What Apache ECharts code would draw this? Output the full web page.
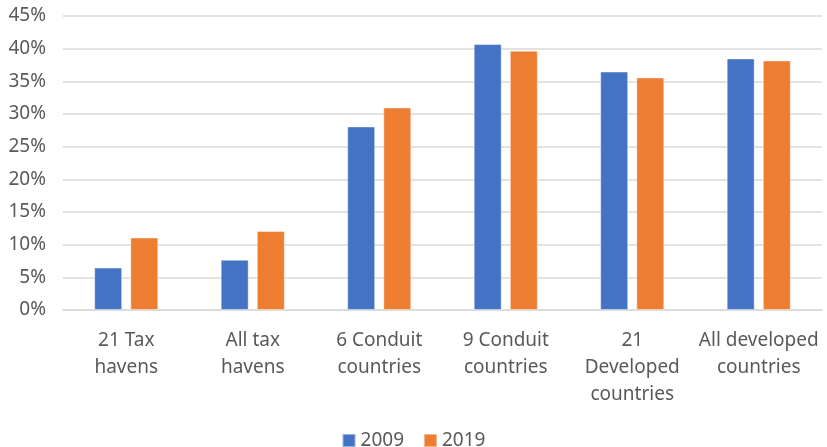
<!DOCTYPE html>
<html>
<head>
<meta charset="utf-8">
<script src="https://cdn.jsdelivr.net/npm/echarts@6/dist/echarts.min.js"></script>
<style>
  html, body { margin: 0; padding: 0; background: #fff; }
  #chart { width: 827px; height: 447px; }
</style>
</head>
<body>
<div id="chart"></div>
<script>
// Share by country group, 2009 vs 2019
const categories = [
  '21 Tax\nhavens',
  'All tax\nhavens',
  '6 Conduit\ncountries',
  '9 Conduit\ncountries',
  '21\nDeveloped\ncountries',
  'All developed\ncountries'
];
const values2009 = [6.5, 7.7, 28.1, 40.7, 36.5, 38.5];
const values2019 = [11.1, 12.1, 31.0, 39.7, 35.6, 38.2];
const yTicks = { min: 0, max: 45, interval: 5 };

const textColor = '#595959';
const font = '"Noto Sans", "Open Sans", sans-serif';

const chart = echarts.init(document.getElementById('chart'), null, { renderer: 'canvas' });
chart.setOption({
  animation: false,
  backgroundColor: '#ffffff',
  grid: { left: 63, right: 5, top: 16, bottom: 137, containLabel: false },
  legend: {
    top: 426,
    left: 'center',
    itemWidth: 13,
    itemHeight: 13,
    itemGap: 19,
    icon: 'rect',
    textStyle: { color: textColor, fontSize: 19, fontFamily: font },
    data: ['2009', '2019']
  },
  xAxis: {
    type: 'category',
    data: categories,
    axisLine: { show: true, lineStyle: { color: '#d9d9d9', width: 1.5 } },
    axisTick: { show: false },
    axisLabel: {
      interval: 0,
      color: textColor,
      fontSize: 19,
      fontFamily: font,
      lineHeight: 27,
      margin: 17
    }
  },
  yAxis: {
    type: 'value',
    min: yTicks.min,
    max: yTicks.max,
    interval: yTicks.interval,
    axisLine: { show: false },
    axisTick: { show: false },
    splitLine: { lineStyle: { color: '#d9d9d9', width: 1.5 } },
    axisLabel: {
      color: textColor,
      fontSize: 19,
      fontFamily: font,
      margin: 17,
      formatter: v => v + '%'
    }
  },
  series: [
    {
      name: '2009',
      type: 'bar',
      data: values2009,
      barWidth: 28,
      barGap: '29%',
      itemStyle: { color: '#4472C4', borderColor: 'rgba(255,255,255,0.45)', borderWidth: 1 }
    },
    {
      name: '2019',
      type: 'bar',
      data: values2019,
      barWidth: 28,
      itemStyle: { color: '#ED7D31', borderColor: 'rgba(255,255,255,0.45)', borderWidth: 1 }
    }
  ]
});
</script>
</body>
</html>
